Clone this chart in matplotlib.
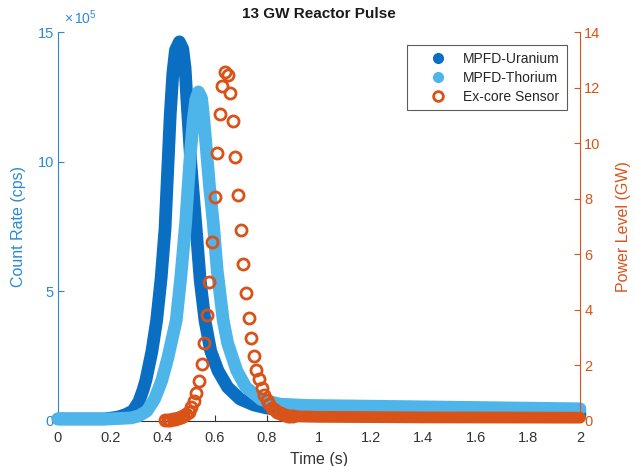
import matplotlib
matplotlib.use("Agg")
import matplotlib.pyplot as plt
from matplotlib.lines import Line2D
from matplotlib.ticker import FuncFormatter

plt.rcParams['font.family'] = ['Liberation Sans', 'DejaVu Sans']
plt.rcParams['mathtext.fontset'] = 'custom'
plt.rcParams['mathtext.rm'] = 'Liberation Sans'
plt.rcParams['mathtext.it'] = 'Liberation Sans'

# ---------------- data ----------------
# MPFD-Uranium (time s, count rate x1e5 cps)
u_t = [0.00, 0.18, 0.23, 0.26, 0.287, 0.31, 0.326, 0.337, 0.36, 0.378, 0.395, 0.41,
       0.42, 0.43, 0.44, 0.45, 0.465, 0.478, 0.487, 0.495, 0.51, 0.531, 0.545, 0.563,
       0.585, 0.613, 0.65, 0.697, 0.75, 0.80, 0.90, 1.2, 2.0]
u_v = [0.08, 0.08, 0.15, 0.25, 0.39, 0.75, 1.2, 1.58, 2.7, 3.88, 5.5, 7.4,
       9.6, 11.8, 13.4, 14.3, 14.62, 14.35, 13.6, 12.2, 9.8, 7.2, 5.4, 3.88,
       2.7, 1.94, 1.3, 0.85, 0.62, 0.5, 0.38, 0.3, 0.25]

# MPFD-Thorium (time s, count rate x1e5 cps)
th_t = [0.00, 0.20, 0.28, 0.31, 0.341, 0.37, 0.387, 0.398, 0.42, 0.453, 0.47, 0.489,
        0.505, 0.518, 0.528, 0.538, 0.55, 0.559, 0.57, 0.58, 0.595, 0.61, 0.633, 0.65,
        0.685, 0.72, 0.78, 0.85, 0.95, 1.2, 1.6, 2.0]
th_v = [0.08, 0.08, 0.12, 0.2, 0.39, 0.85, 1.28, 1.58, 2.4, 3.88, 5.5, 7.63,
        10.0, 11.6, 12.4, 12.69, 12.45, 11.6, 10.3, 9.1, 7.63, 5.8, 3.88, 3.0,
        1.94, 1.3, 0.82, 0.65, 0.6, 0.57, 0.52, 0.47]

# Ex-core sensor (time s, power GW)
ex_t = [0.41, 0.42, 0.43, 0.44, 0.45, 0.46, 0.47, 0.48, 0.49, 0.50,
        0.51, 0.52, 0.53, 0.54, 0.55, 0.56, 0.57, 0.58, 0.59, 0.60,
        0.61, 0.62, 0.63, 0.64, 0.65, 0.66, 0.67, 0.68, 0.69, 0.70,
        0.71, 0.72, 0.73, 0.74, 0.75, 0.76, 0.77, 0.78, 0.79, 0.80,
        0.81, 0.82, 0.83, 0.84, 0.85, 0.86, 0.87, 0.88, 0.89, 0.90]
ex_v = [0.03, 0.04, 0.05, 0.06, 0.08, 0.10, 0.13, 0.18, 0.25, 0.34,
        0.50, 0.72, 1.02, 1.45, 2.05, 2.80, 3.80, 5.00, 6.45, 8.05,
        9.63, 11.04, 12.05, 12.56, 12.45, 11.80, 10.79, 9.49, 8.12, 6.86,
        5.66, 4.62, 3.72, 3.00, 2.35, 1.84, 1.52, 1.19, 0.94, 0.75,
        0.60, 0.48, 0.40, 0.33, 0.28, 0.24, 0.21, 0.19, 0.18, 0.17]
# Ex-core tail (dense samples forming a band)
ex_tail_t = [0.90, 1.0, 1.4, 2.0]
ex_tail_v = [0.17, 0.15, 0.13, 0.12]

x_ticks = [0, 0.2, 0.4, 0.6, 0.8, 1.0, 1.2, 1.4, 1.6, 1.8, 2.0]
left_ticks = [0, 5, 10, 15]
right_ticks = [0, 2, 4, 6, 8, 10, 12, 14]

title = "13 GW Reactor Pulse"
labels = ["MPFD-Uranium", "MPFD-Thorium", "Ex-core Sensor"]

# ---------------- style ----------------
c_u = '#0a6ec2'
c_th = '#4db5ea'
c_ex = '#d95319'
c_left = '#2a8ad0'
c_axis = '#333333'

fig = plt.figure(figsize=(6.36, 4.66), dpi=100)
ax = fig.add_axes([58/636, 45/466, 522/636, 389/466])
ax2 = ax.twinx()

lw = 9.2
ax.plot(u_t, u_v, color=c_u, lw=lw, solid_capstyle='round',
        solid_joinstyle='round', clip_on=False, zorder=2)
ax.plot(th_t, th_v, color=c_th, lw=lw, solid_capstyle='round',
        solid_joinstyle='round', clip_on=False, zorder=3)

ax2.plot(ex_tail_t, ex_tail_v, color=c_ex, lw=8.5, solid_capstyle='round',
         clip_on=False, zorder=2)
ax2.plot(ex_t, ex_v, ls='none', marker='o', ms=8, mfc='none', mec=c_ex,
         mew=2.0, clip_on=False, zorder=3)

ax.set_xlim(0, 2)
ax.set_ylim(0, 15)
ax2.set_ylim(0, 14)

ax.set_xticks(x_ticks)
ax.xaxis.set_major_formatter(FuncFormatter(lambda v, p: f"{v:g}"))
ax.set_yticks(left_ticks)
ax2.set_yticks(right_ticks)

for a in (ax, ax2):
    a.spines['top'].set_visible(False)
    a.tick_params(direction='in', length=4, labelsize=10.5)
ax.spines['right'].set_visible(False)
ax.spines['left'].set_color(c_left)
ax.spines['bottom'].set_color(c_axis)
ax2.spines['left'].set_visible(False)
ax2.spines['bottom'].set_visible(False)
ax2.spines['right'].set_color(c_ex)
ax.tick_params(axis='x', colors=c_axis, pad=7)
ax.tick_params(axis='y', colors=c_left, pad=3)
ax2.tick_params(axis='y', colors=c_ex, pad=3)

ax.set_xlabel("Time (s)", fontsize=11.5, color=c_axis, labelpad=5)
ax.set_ylabel("Count Rate (cps)", fontsize=11.5, color=c_left, labelpad=8)
ax2.set_ylabel("Power Level (GW)", fontsize=11.5, color=c_ex, labelpad=11)
ax.set_title(title, fontsize=11, fontweight='bold', color='#1a1a1a', pad=10)

ax.text(0.012, 1.012, r'$\times\,10^{5}$', transform=ax.transAxes,
        color=c_left, fontsize=10, ha='left', va='bottom')

handles = [
    Line2D([], [], ls='none', marker='o', ms=7, mfc=c_u, mec=c_u),
    Line2D([], [], ls='none', marker='o', ms=7, mfc=c_th, mec=c_th),
    Line2D([], [], ls='none', marker='o', ms=7, mfc='none', mec=c_ex, mew=2),
]
leg = ax2.legend(handles, labels, loc='upper right', bbox_to_anchor=(0.975, 0.967),
                 borderaxespad=0, fontsize=10, frameon=True, fancybox=False,
                 edgecolor='#333333', handletextpad=0.15, borderpad=0.5,
                 labelspacing=0.35, handlelength=3.4)
leg.get_frame().set_linewidth(0.8)
for t in leg.get_texts():
    t.set_color('#262626')

fig.savefig("out.png", dpi=100)
